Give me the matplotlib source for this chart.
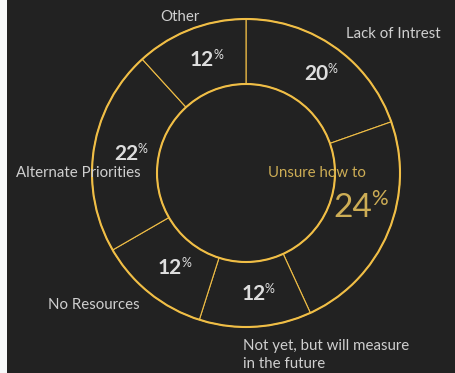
import numpy as np
import matplotlib.pyplot as plt
from matplotlib.patches import Circle, Rectangle

# survey answers, clockwise from 12 o'clock
categories = ["Lack of Intrest", "Unsure how to",
              "Not yet, but will measure\nin the future", "No Resources",
              "Alternate Priorities", "Other"]
shares = [20, 24, 12, 12, 22, 12]
highlight = 1  # slice called out in the hole

BG = "#222222"
GOLD = "#f0be46"
MUTED_GOLD = "#cdad55"
TXT = "#cfcfcf"
PCT = "#dedede"

plt.rcParams['font.family'] = ['Lato', 'DejaVu Sans']

fig = plt.figure(figsize=(4.56, 3.73), dpi=100, facecolor="#f8f9fa")
fig.patches.append(Rectangle((7 / 456, -0.01), 1.0, 1.02, transform=fig.transFigure,
                             facecolor=BG, edgecolor="none", zorder=-10))
ax = fig.add_axes([0, 0, 1, 1])
ax.set_facecolor("none")
ax.set_zorder(5)

cx, cy = 246, 200
R, r = 154, 89

wedges, _ = ax.pie(shares, startangle=90, counterclock=False,
                   center=(cx, cy), radius=R,
                   wedgeprops=dict(width=R - r, facecolor=BG,
                                   edgecolor=GOLD, linewidth=0.8))
ax.add_patch(Circle((cx, cy), R, fill=False, edgecolor=GOLD, linewidth=1.5))
ax.add_patch(Circle((cx, cy), r, fill=False, edgecolor=GOLD, linewidth=1.5))

ax.set_xlim(0, 456)
ax.set_ylim(0, 373)
ax.set_aspect('equal')
ax.axis('off')

# percentage inside each ring segment
rmid = (R + r) / 2
for i, (w, v) in enumerate(zip(wedges, shares)):
    if i == highlight:
        continue
    th = np.deg2rad((w.theta1 + w.theta2) / 2)
    x = cx + rmid * np.cos(th)
    y = cy + rmid * np.sin(th)
    ax.text(x, y, f"{v}", ha='center', va='center', fontsize=15,
            fontweight='bold', color=PCT)
    ax.text(x + 11.5, y + 5, "%", ha='left', va='center', fontsize=9,
            color=PCT)

# outer category labels
fs = 10.8
ax.text(180, 356, categories[5], ha='center', va='center', fontsize=fs, color=TXT)
ax.text(393, 339, categories[0], ha='center', va='center', fontsize=fs, color=TXT)
ax.text(78, 200, categories[4], ha='center', va='center', fontsize=fs, color=TXT)
ax.text(94, 68, categories[3], ha='center', va='center', fontsize=fs, color=TXT)
ax.text(243, 34, categories[2], ha='left', va='top', fontsize=fs, color=TXT,
        linespacing=1.38)

# called-out slice
ax.text(317, 200, categories[highlight], ha='center', va='center',
        fontsize=fs, color=MUTED_GOLD)
ax.text(353, 165, f"{shares[highlight]}", ha='center', va='center',
        fontsize=24, color=MUTED_GOLD)
ax.text(371, 174, "%", ha='left', va='center', fontsize=15,
        color=MUTED_GOLD)

fig.savefig("out.png", dpi=100, facecolor=fig.get_facecolor())
